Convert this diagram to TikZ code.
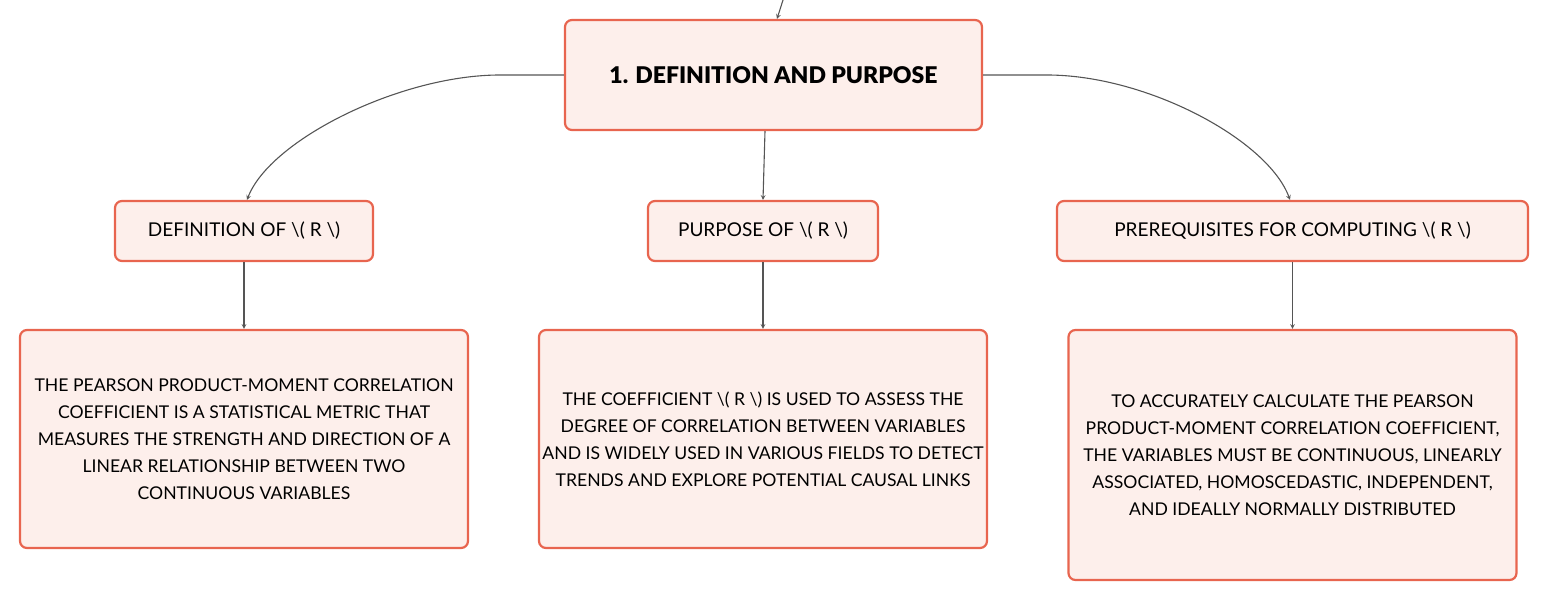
\documentclass[tikz,border=0pt]{standalone}
\usepackage{fontspec}
\setmainfont{Lato}[BoldFont={Lato Black}]
\usepackage{color}
\definecolor{boxline}{HTML}{E8654F}
\definecolor{boxfill}{HTML}{FDEFEB}
\definecolor{linkline}{HTML}{555555}
\newcommand{\rsym}{\textbackslash( R \textbackslash)}

\begin{document}
\begin{tikzpicture}[x=1pt,y=-1pt,>=stealth,
	box/.style={draw=boxline,fill=boxfill,line width=2.2pt,rounded corners=7pt,align=center},
	mainbox/.style={box,minimum width=417pt,minimum height=110pt,font=\fontsize{23}{26}\selectfont\bfseries},
	topic/.style={box,minimum height=60pt,font=\fontsize{19}{22}\selectfont},
	detail/.style={box,minimum width=448pt,font=\fontsize{17.6}{27}\selectfont},
	link/.style={->,draw=linkline,line width=1.1pt}]
	\useasboundingbox (0,0) rectangle (1548,602);
	% main topic
	\node [mainbox] (main) at (773.5,75) {1. DEFINITION AND PURPOSE};
	\coordinate (in) at (783,0);
	\draw [link] (in) -- (main.north -| 777,0);
	% second level
	\node [topic,minimum width=258pt] (def) at (244,231) {DEFINITION OF \rsym};
	\node [topic,minimum width=230pt] (purp) at (763,231) {PURPOSE OF \rsym};
	\node [topic,minimum width=471pt] (prereq) at (1292.5,231) {PREREQUISITES FOR COMPUTING \rsym};
	\draw [link] (main.west) -- (500,75) .. controls (400,75) and (270,140) .. (def.north -| 247,0);
	\draw [link] (main.south -| 765,0) -- (purp.north);
	\draw [link] (main.east) -- (1047,75) .. controls (1147,75) and (1268,140) .. (prereq.north -| 1290,0);
	% details
	\node [detail,minimum height=218pt] (defd) at (244,439) {THE PEARSON PRODUCT-MOMENT CORRELATION\\COEFFICIENT IS A STATISTICAL METRIC THAT\\MEASURES THE STRENGTH AND DIRECTION OF A\\LINEAR RELATIONSHIP BETWEEN TWO\\CONTINUOUS VARIABLES};
	\node [detail,minimum height=218pt] (purpd) at (763,439) {THE COEFFICIENT \rsym{} IS USED TO ASSESS THE\\DEGREE OF CORRELATION BETWEEN VARIABLES\\AND IS WIDELY USED IN VARIOUS FIELDS TO DETECT\\TRENDS AND EXPLORE POTENTIAL CAUSAL LINKS};
	\node [detail,minimum height=250pt] (prereqd) at (1292.5,455) {TO ACCURATELY CALCULATE THE PEARSON\\PRODUCT-MOMENT CORRELATION COEFFICIENT,\\THE VARIABLES MUST BE CONTINUOUS, LINEARLY\\ASSOCIATED, HOMOSCEDASTIC, INDEPENDENT,\\AND IDEALLY NORMALLY DISTRIBUTED};
	\draw [link] (def) -- (defd);
	\draw [link] (purp) -- (purpd);
	\draw [link] (prereq) -- (prereqd);
\end{tikzpicture}
\end{document}
